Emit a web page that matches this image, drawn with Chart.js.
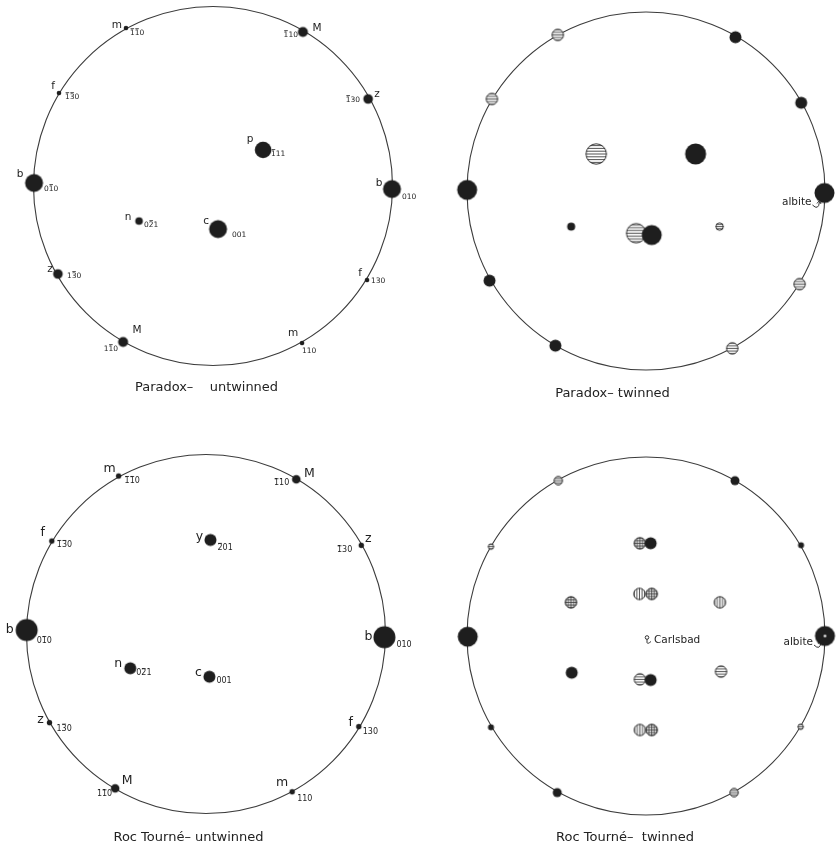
<!DOCTYPE html>
<html>
<head>
<meta charset="utf-8">
<script src="https://cdn.jsdelivr.net/npm/chart.js@4.4.0/dist/chart.umd.min.js"></script>
<style>
  html, body { margin: 0; padding: 0; background: #ffffff; width: 838px; height: 849px; overflow: hidden; position: relative; }
  canvas { position: absolute; }
</style>
</head>
<body>
<canvas id="paradoxUntwinned" width="440" height="440"></canvas>
<canvas id="paradoxTwinned" width="440" height="440"></canvas>
<canvas id="rocUntwinned" width="440" height="440"></canvas>
<canvas id="rocTwinned" width="440" height="440"></canvas>
<script>
// Face poles on the stereographic projection (unit primitive circle).
// Miller indices: '-' puts a bar over the following digit.

// Paradox, untwinned
const puForms   = ['m', 'M', 'f', 'z', 'p', 'b', 'b', 'n', 'c', 'z', 'f', 'M', 'm'];
const puIndices = ['-1-10', '-110', '-1-30', '-130', '-111', '0-10', '010', '0-21', '001', '1-30', '130', '1-10', '110'];
const puX = [-0.485, 0.501, -0.858, 0.864, 0.279, -0.997, 0.997, -0.412, 0.028, -0.864, 0.858, -0.501, 0.496];
const puY = [ 0.880, 0.858,  0.518, 0.485, 0.201,  0.017, -0.017, -0.195, -0.240, -0.490, -0.524, -0.869, -0.875];

// Paradox, twinned (I = host, II = albite twin)
const ptForms = ['M', 'z', 'M', 'z', 'p', 'p', 'b', 'b', 'n', 'c', 'c', 'n', 'z', 'z', 'M', 'M'];
const ptTwin  = ['II', 'II', 'I', 'I', 'II', 'I', 'I', 'I', 'I', 'II', 'I', 'II', 'I', 'II', 'I', 'II'];
const ptX = [-0.493, -0.861, 0.500, 0.867, -0.278, 0.277, -0.999, 0.997, -0.418, -0.055, 0.032, 0.411, -0.874, 0.858, -0.506, 0.482];
const ptY = [ 0.872,  0.514, 0.859, 0.493,  0.207, 0.207,  0.006, -0.011, -0.199, -0.236, -0.246, -0.199, -0.501, -0.520, -0.864, -0.879];
const ptLaws = ['albite'];
const ptLawX = [0.997];
const ptLawY = [-0.011];

// Roc Tourné, untwinned
const ruForms   = ['m', 'M', 'f', 'z', 'y', 'b', 'b', 'n', 'c', 'z', 'f', 'M', 'm'];
const ruIndices = ['-1-10', '-110', '-1-30', '-130', '-201', '0-10', '010', '0-21', '001', '1-30', '130', '1-10', '110'];
const ruX = [-0.487, 0.503, -0.859, 0.865, 0.025, -0.999, 0.994, -0.422, 0.019, -0.872, 0.851, -0.506, 0.480];
const ruY = [ 0.880, 0.862,  0.518, 0.494, 0.524,  0.022, -0.018, -0.191, -0.238, -0.494, -0.516, -0.860, -0.879];

// Roc Tourné, twinned (I host, II albite, III / IV Carlsbad-related individuals)
const rtForms = ['M', 'z', 'M', 'z', 'y', 'y', 'c', 'c', 'n', 'n', 'b', 'b', 'n', 'c', 'c', 'n', 'y', 'y', 'z', 'z', 'M', 'M'];
const rtTwin  = ['II', 'II', 'I', 'I', 'IV', 'I', 'III', 'IV', 'IV', 'III', 'I', 'I+II', 'I', 'II', 'I', 'II', 'III', 'IV', 'I', 'II', 'I', 'II'];
const rtX = [-0.490, -0.866, 0.497, 0.866, -0.034, 0.026, -0.037, 0.032, -0.419, 0.413, -0.996, 1.000, -0.415, -0.034, 0.026, 0.419, -0.034, 0.032, -0.866, 0.864, -0.496, 0.492];
const rtY = [ 0.868,  0.499, 0.868, 0.507,  0.518, 0.518,  0.235, 0.235,  0.188, 0.188, -0.004, 0.000, -0.205, -0.242, -0.246, -0.199, -0.525, -0.525, -0.510, -0.507, -0.875, -0.875];
const rtLaws = ['albite', 'Carlsbad'];
const rtLawX = [1.000, 0.000];
const rtLawY = [0.000, 0.000];

// ---------- styling ----------
const FONT = '"DejaVu Sans", "Liberation Sans", sans-serif';
const INK = '#1e1e1e';

// pole radii (px) for each form
const puSizes = { m: 2.3, M: 5, f: 2.3, z: 4.8, p: 8.3, b: 9, n: 3.8, c: 9 };
const ptSizes = { M: 6, z: 6, p: 10.5, b: 10, n: 4, c: 10 };
const ruSizes = { m: 2.7, M: 4.3, f: 2.7, z: 2.7, y: 6, b: 11, n: 6, c: 6 };
const rtSizes = { M: 4.5, z: 3, y: 6, c: 6, n: 6, b: 10 };

// label placement: [letter dx, dy, index dx, dy, index alignment]
const puLabelPos = [[-9,-3,4,5,'l'],[14,-4,-5,3,'r'],[-6,-7,6,4,'l'],[9,-5,-8,1,'r'],[-13,-11,8,4,'l'],
  [-14,-9,10,6,'l'],[-13,-6,10,8,'l'],[-11,-4,5,4,'l'],[-12,-8,14,6,'l'],[-8,-5,9,2,'l'],
  [-7,-7,4,1,'l'],[14,-12,-5,7,'r'],[-9,-10,0,8,'l']];
const ruLabelPos = [[-9,-7,6,5,'l'],[13,-6,-7,4,'r'],[-9,-8,5,4,'l'],[7,-7,-9,5,'r'],[-11,-3,7,8,'l'],
  [-17,0,10,11,'l'],[-16,0,12,8,'l'],[-12,-5,6,5,'l'],[-11,-4,7,4,'l'],[-9,-3,7,6,'l'],
  [-8,-4,4,5,'l'],[12,-8,-3,6,'r'],[-10,-9,5,7,'l']];

// pole marker pictures, one per individual and size
const markerCache = {};
function marker(kind, r) {
  const key = kind + ':' + r;
  if (markerCache[key]) return markerCache[key];
  const s = Math.ceil(2 * r + 3);
  const c = document.createElement('canvas');
  c.width = s; c.height = s;
  const g = c.getContext('2d');
  const m = s / 2;
  g.beginPath();
  g.arc(m, m, r, 0, Math.PI * 2);
  if (kind === 'I' || kind === 'I+II') {
    g.fillStyle = INK;
    g.fill();
    if (kind === 'I+II') {
      g.beginPath();
      g.arc(m, m, 1.3, 0, Math.PI * 2);
      g.fillStyle = '#ffffff';
      g.fill();
    }
  } else {
    g.fillStyle = '#ffffff';
    g.fill();
    g.save();
    g.clip();
    g.strokeStyle = '#333333';
    g.lineWidth = 0.85;
    const sp = r >= 8 ? 2.8 : (r >= 5 ? 2.6 : 2.2);
    const n = Math.floor(r / sp);
    g.beginPath();
    for (let k = -n; k <= n; k++) {
      if (kind === 'II' || kind === 'IV') { g.moveTo(0, m + k * sp); g.lineTo(s, m + k * sp); }
      if (kind === 'III' || kind === 'IV') { g.moveTo(m + k * sp, 0); g.lineTo(m + k * sp, s); }
    }
    g.stroke();
    g.restore();
    g.beginPath();
    g.arc(m, m, r - 0.3, 0, Math.PI * 2);
    g.strokeStyle = '#222222';
    g.lineWidth = 0.9;
    g.stroke();
  }
  markerCache[key] = c;
  return c;
}

// Miller index with overbars
function drawIndex(ctx, code, x, y, align, fs) {
  const chars = [];
  for (let i = 0; i < code.length; i++) {
    if (code[i] === '-') { chars.push({ c: code[i + 1], bar: true }); i++; }
    else chars.push({ c: code[i], bar: false });
  }
  const text = chars.map(o => o.c).join('');
  const w = ctx.measureText(text).width;
  const sx = align === 'r' ? x - w : x;
  ctx.textAlign = 'left';
  ctx.fillText(text, sx, y);
  let cx = sx;
  const by = y - fs * 0.42 - 1.2;
  ctx.lineWidth = 0.8;
  chars.forEach(o => {
    const cw = ctx.measureText(o.c).width;
    if (o.bar) {
      ctx.beginPath();
      ctx.moveTo(cx + 0.6, by);
      ctx.lineTo(cx + cw - 0.6, by);
      ctx.stroke();
    }
    cx += cw;
  });
}

function decorPlugin(spec) {
  return {
    id: 'stereoDecor',
    beforeDatasetsDraw(chart) {
      const { ctx, scales: { x, y } } = chart;
      const cx = x.getPixelForValue(0), cy = y.getPixelForValue(0);
      const rad = x.getPixelForValue(1) - cx;
      ctx.save();
      ctx.beginPath();
      ctx.arc(cx, cy, rad, 0, Math.PI * 2);
      ctx.lineWidth = 1.1;
      ctx.strokeStyle = '#3c3c3c';
      ctx.stroke();
      ctx.restore();
    },
    afterDatasetsDraw(chart) {
      const { ctx, scales: { x, y } } = chart;
      const cx = x.getPixelForValue(0), cy = y.getPixelForValue(0);
      ctx.save();
      ctx.fillStyle = INK;
      ctx.strokeStyle = INK;
      ctx.textBaseline = 'middle';
      const meta = chart.getDatasetMeta(0);
      if (spec.indices) {
        meta.data.forEach((pt, i) => {
          const L = spec.labelPos[i];
          ctx.font = spec.letterFont + 'px ' + FONT;
          ctx.textAlign = 'center';
          ctx.fillText(spec.forms[i], pt.x + L[0], pt.y + L[1]);
          ctx.font = spec.indexFont + 'px ' + FONT;
          drawIndex(ctx, spec.indices[i], pt.x + L[2], pt.y + L[3], L[4], spec.indexFont);
        });
      }
      if (spec.laws) {
        spec.laws.forEach((law, i) => {
          const px = x.getPixelForValue(spec.lawX[i]);
          const py = y.getPixelForValue(spec.lawY[i]);
          const off = spec.lawPos[law];
          ctx.font = '10.5px ' + FONT;
          ctx.lineWidth = 0.9;
          if (law === 'albite') {
            const tx = px + off[0], ty = py + off[1];
            ctx.textAlign = 'right';
            ctx.fillText(law, tx, ty);
            ctx.beginPath();
            ctx.moveTo(tx + 1, ty + 3);
            ctx.quadraticCurveTo(tx + 7, ty + 9, tx + 8, ty);
            ctx.stroke();
            ctx.beginPath();
            ctx.moveTo(tx + 5.5, ty + 1.5);
            ctx.lineTo(tx + 8, ty - 1.5);
            ctx.lineTo(tx + 9.5, ty + 2);
            ctx.stroke();
          } else {
            ctx.beginPath();
            ctx.arc(px + 1, py + 1.5, 1.8, 0, Math.PI * 2);
            ctx.stroke();
            ctx.beginPath();
            ctx.moveTo(px + 1, py + 3.3);
            ctx.lineTo(px + 1, py + 6.5);
            ctx.quadraticCurveTo(px + 1.5, py + 8.5, px + 5, py + 5.5);
            ctx.stroke();
            ctx.textAlign = 'left';
            ctx.fillText(law, px + off[0], py + off[1]);
          }
        });
      }
      ctx.font = spec.titleFont + 'px ' + FONT;
      ctx.textAlign = 'center';
      ctx.fillStyle = '#222222';
      ctx.fillText(spec.title, cx + spec.titlePos[0], cy + spec.titlePos[1], spec.titleWidth);
      ctx.restore();
    }
  };
}

function makePanel(id, place, xs, ys, forms, twins, sizes, spec) {
  const el = document.getElementById(id);
  const half = 220;
  el.style.left = (place.cx - half) + 'px';
  el.style.top = (place.cy - half) + 'px';
  const R = half / place.r;
  const pts = xs.map((v, i) => ({ x: v, y: ys[i] }));
  spec.forms = forms;
  return new Chart(el, {
    type: 'scatter',
    data: {
      datasets: [{
        data: pts,
        pointRadius: c => sizes[forms[c.dataIndex]],
        pointStyle: c => marker(twins ? twins[c.dataIndex] : 'I', sizes[forms[c.dataIndex]]),
        showLine: false,
        clip: false
      }]
    },
    options: {
      responsive: false,
      animation: false,
      events: [],
      devicePixelRatio: 1,
      layout: { padding: 0, autoPadding: false },
      scales: {
        x: { type: 'linear', min: -R, max: R, display: false },
        y: { type: 'linear', min: -R, max: R, display: false }
      },
      plugins: { legend: { display: false }, tooltip: { enabled: false }, title: { display: false } }
    },
    plugins: [decorPlugin(spec)]
  });
}

makePanel('paradoxUntwinned', { cx: 213, cy: 186, r: 179.5 }, puX, puY, puForms, null, puSizes, {
  indices: puIndices, labelPos: puLabelPos, letterFont: 10.5, indexFont: 7.5,
  title: 'Paradox\u2013    untwinned', titlePos: [-6.5, 202], titleWidth: 143, titleFont: 13
});
makePanel('paradoxTwinned', { cx: 646, cy: 191, r: 179 }, ptX, ptY, ptForms, ptTwin, ptSizes, {
  laws: ptLaws, lawX: ptLawX, lawY: ptLawY, lawPos: { albite: [-13, 9] },
  title: 'Paradox\u2013 twinned', titlePos: [-33.5, 203], titleWidth: 119, titleFont: 13
});
makePanel('rocUntwinned', { cx: 206, cy: 634, r: 179.5 }, ruX, ruY, ruForms, null, ruSizes, {
  indices: ruIndices, labelPos: ruLabelPos, letterFont: 12.5, indexFont: 8,
  title: 'Roc Tourn\u00e9\u2013 untwinned', titlePos: [-17.5, 204], titleWidth: 157, titleFont: 13
});
makePanel('rocTwinned', { cx: 646, cy: 636, r: 179 }, rtX, rtY, rtForms, rtTwin, rtSizes, {
  laws: rtLaws, lawX: rtLawX, lawY: rtLawY, lawPos: { albite: [-12, 6], Carlsbad: [8, 4] },
  title: 'Roc Tourn\u00e9\u2013  twinned', titlePos: [-21, 202], titleWidth: 144, titleFont: 13
});
</script>
</body>
</html>
